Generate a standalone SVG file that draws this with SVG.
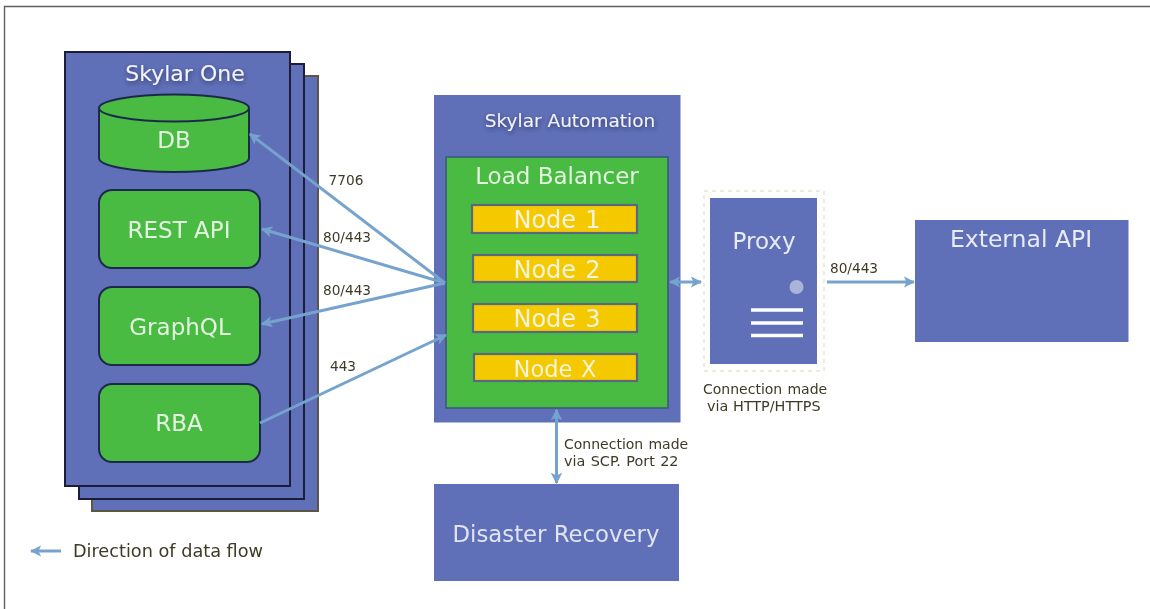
<svg xmlns="http://www.w3.org/2000/svg" width="1150" height="609" viewBox="0 0 1150 609">
<defs>
<style>
text{font-family:"DejaVu Sans","Liberation Sans",sans-serif;text-anchor:middle}
.blue{fill:#5f6fb8}
.stack{fill:#5f6fb8;stroke:#1a1f3a;stroke-width:2}
.green{fill:#48bb43;stroke:#1f2a4a;stroke-width:2}
.node{fill:#f5c900;stroke:#59677f;stroke-width:2.200}
.w{fill:#e4f3e0;font-size:23px}
.n{fill:#f6f4dc;font-size:24px;word-spacing:1.500px}
.t{fill:#f2f4fa;font-size:18.500px}
.d{fill:#3e3a28;font-size:13.700px}
.e{fill:#3e3a28;font-size:14px;text-anchor:start}
.c{fill:none;stroke:#76a3cd;stroke-width:3}
.sh{filter:url(#s)}
</style>
<filter id="s" x="-10%" y="-30%" width="120%" height="160%"><feDropShadow dx="0.5" dy="2" stdDeviation="2" flood-color="#20264f" flood-opacity=".7"/></filter>
<filter id="b" x="-5%" y="-5%" width="110%" height="110%"><feGaussianBlur stdDeviation="0.55"/></filter>
<marker id="a" viewBox="0 0 10 10" refX="9" refY="5" markerWidth="3.800" markerHeight="3.800" orient="auto-start-reverse"><path d="M0 0L10 5L0 10L2.500 5Z" fill="#76a3cd"/></marker>
</defs>
<rect width="1150" height="609" fill="#fff"/>
<g filter="url(#b)">
<path id="frame" d="M4.500 609V6.500H1150" fill="none" stroke="#5e5e5e" stroke-width="1.400"/>
<g id="skylar-one">
<rect class="stack" x="92" y="76" width="226" height="435" style="stroke:#5b5644"/>
<rect class="stack" x="79" y="64" width="225" height="435"/>
<rect class="stack" x="65" y="52" width="225" height="434"/>
<text class="t sh" x="185" y="81" style="font-size:22px">Skylar One</text>
</g>
<g id="db">
<path class="green" d="M99 108V158C99 166 132 172 174 172S249 166 249 158V108"/>
<ellipse class="green" cx="174" cy="108" rx="75" ry="13.500"/>
<text class="w" x="174" y="148">DB</text>
</g>
<g id="rest-api"><rect class="green" x="99" y="190" width="161" height="78" rx="13"/><text class="w" x="179" y="238">REST API</text></g>
<g id="graphql"><rect class="green" x="99" y="287" width="161" height="78" rx="13"/><text class="w" x="180" y="335">GraphQL</text></g>
<g id="rba"><rect class="green" x="99" y="384" width="161" height="78" rx="13"/><text class="w" x="179" y="431">RBA</text></g>
<g id="skylar-automation">
<rect class="blue" x="434" y="95" width="246.500" height="327.500"/>
<text class="t sh" x="570" y="127">Skylar Automation</text>
</g>
<g id="load-balancer">
<rect x="446" y="157" width="222" height="251" fill="#48bb43" stroke="#3c5a7c" stroke-width="1.600"/>
<text class="w" x="557" y="184">Load Balancer</text>
</g>
<g id="node-1"><rect class="node" x="472" y="205" width="165" height="28"/><text class="n" x="557" y="228">Node 1</text></g>
<g id="node-2"><rect class="node" x="473" y="255" width="164" height="27"/><text class="n" x="557" y="278">Node 2</text></g>
<g id="node-3"><rect class="node" x="473" y="304" width="164" height="28"/><text class="n" x="557" y="327">Node 3</text></g>
<g id="node-x"><rect class="node" x="474" y="354" width="163" height="27"/><text class="n" x="555" y="377" style="font-size:22.500px">Node X</text></g>
<g id="proxy">
<rect x="704" y="191" width="120" height="180" fill="none" stroke="#e8e4d4" stroke-width="1.500" stroke-dasharray="4 4"/>
<rect class="blue" x="710" y="198" width="107" height="166"/>
<text class="w" x="764" y="249" style="fill:#e8ecf6">Proxy</text>
<circle cx="796.500" cy="287" r="7" fill="#aab3d8"/>
<path d="M751 310H803M751 323H803M751 335.500H803" stroke="#fff" stroke-width="3.500" fill="none"/>
</g>
<g id="external-api"><rect class="blue" x="915" y="220" width="213.500" height="122"/><text class="w" x="1021" y="247" style="fill:#e8ecf6;font-size:23.500px">External API</text></g>
<g id="disaster-recovery"><rect class="blue" x="434" y="484" width="245" height="97"/><text class="w" x="556" y="542" style="fill:#e0e4f2;font-size:22.800px">Disaster Recovery</text></g>
<g id="connectors">
<path class="c" marker-end="url(#a)" d="M445 283L250 134"/>
<path class="c" marker-end="url(#a)" d="M445 283L262 229"/>
<path class="c" marker-end="url(#a)" d="M445 283L262 324"/>
<path class="c" marker-end="url(#a)" d="M260 423L446 335"/>
<path class="c" marker-start="url(#a)" marker-end="url(#a)" d="M670 282H701"/>
<path class="c" marker-end="url(#a)" d="M827 282H914"/>
<path class="c" marker-start="url(#a)" marker-end="url(#a)" d="M556.500 410V483"/>
<path class="c" marker-start="url(#a)" d="M31 551H61"/>
</g>
<g id="labels">
<text class="d" x="346" y="185">7706</text>
<text class="d" x="347" y="242">80/443</text>
<text class="d" x="347" y="295">80/443</text>
<text class="d" x="343" y="371">443</text>
<text class="d" x="854" y="273">80/443</text>
<text class="e" x="703" y="394" style="word-spacing:0.800px">Connection made</text>
<text class="e" x="707" y="411" style="font-size:14.400px">via HTTP/HTTPS</text>
<text class="e" x="564" y="449" style="word-spacing:0.800px">Connection made</text>
<text class="e" x="564" y="466" style="word-spacing:0.800px;font-size:14.400px">via SCP. Port 22</text>
<text x="168" y="557" style="fill:#3e3a28;font-size:17.700px">Direction of data flow</text>
</g>
</g>
</svg>
